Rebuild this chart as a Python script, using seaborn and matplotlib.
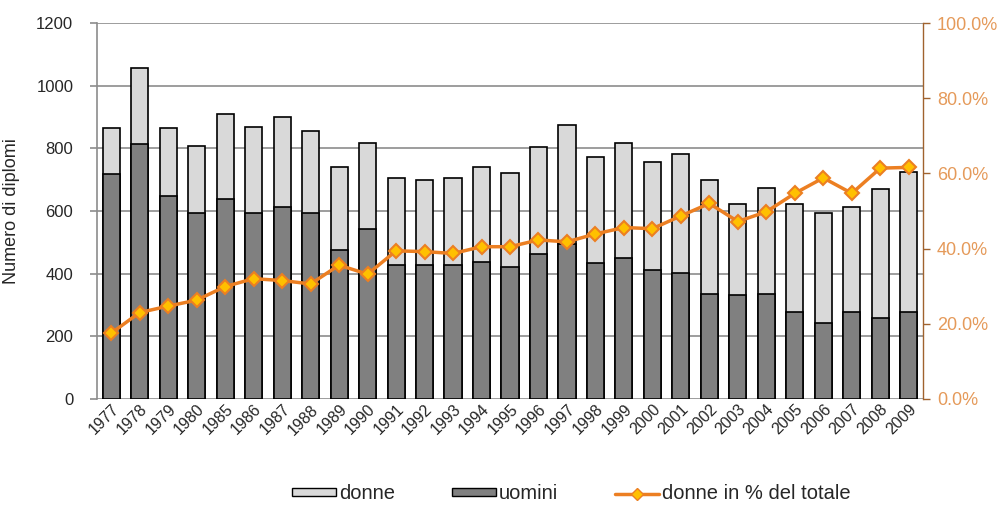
import numpy as np
import matplotlib
matplotlib.use("Agg")
import matplotlib.pyplot as plt
import seaborn as sns
import pandas as pd
from matplotlib.patches import Patch
from matplotlib.lines import Line2D
from matplotlib.ticker import FuncFormatter

years = ['1977', '1978', '1979', '1980', '1985', '1986', '1987', '1988', '1989', '1990',
         '1991', '1992', '1993', '1994', '1995', '1996', '1997', '1998', '1999', '2000',
         '2001', '2002', '2003', '2004', '2005', '2006', '2007', '2008', '2009']
totale = [865, 1055, 864, 807, 911, 869, 900, 854, 741, 818,
          704, 699, 704, 741, 720, 803, 873, 771, 818, 755,
          782, 699, 622, 673, 622, 593, 612, 669, 726]
uomini = [717, 813, 648, 593, 638, 593, 612, 593, 474, 541,
          427, 427, 427, 438, 422, 463, 495, 433, 449, 412,
          401, 335, 331, 335, 278, 244, 278, 259, 278]
perc_donne = [17.5, 23.0, 24.7, 26.3, 29.9, 32.0, 31.5, 30.6, 35.6, 33.2,
              39.4, 39.2, 38.7, 40.5, 40.5, 42.3, 41.8, 43.9, 45.6, 45.3,
              48.7, 52.0, 47.2, 49.8, 54.7, 58.8, 54.7, 61.4, 61.6]

df = pd.DataFrame({'anno': years, 'totale': totale, 'uomini': uomini, 'perc': perc_donne})

sns.set_style("white")
plt.rcParams['font.family'] = ['Liberation Sans', 'DejaVu Sans']

LIGHT = '#d9d9d9'
DARK = '#808080'
ORANGE = '#ec7f22'
ORANGE_TXT = '#e59a5a'
GRID = '#8c8c8c'

fig = plt.figure(figsize=(10.07, 5.08), dpi=100)
ax = fig.add_axes([0.0963, 0.2146, 0.8203, 0.7401])

# stacked bars: total (donne on top) first, uomini drawn over it
sns.barplot(data=df, x='anno', y='totale', color=LIGHT, edgecolor='black',
            linewidth=1.2, width=0.6, saturation=1, ax=ax, zorder=2)
sns.barplot(data=df, x='anno', y='uomini', color=DARK, edgecolor='black',
            linewidth=1.2, width=0.6, saturation=1, ax=ax, zorder=3)

ax.set_ylim(0, 1200)
ax.set_yticks(np.arange(0, 1201, 200))
ax.set_xlim(-0.5, len(years) - 0.5)
ax.grid(axis='y', color=GRID, linewidth=1.2, zorder=0)
ax.set_axisbelow(True)
ax.set_xlabel('')
ax.set_ylabel('Numero di diplomi', fontsize=13, labelpad=12)
ax.tick_params(axis='y', labelsize=12, length=5, color=GRID, width=1.2, pad=12)
ax.tick_params(axis='x', labelsize=11.5, length=0, pad=2)
plt.setp(ax.get_xticklabels(), rotation=45, ha='right', rotation_mode='anchor')
for side in ['top', 'right', 'bottom']:
    ax.spines[side].set_visible(False)
ax.spines['left'].set_color(GRID)
ax.spines['left'].set_linewidth(1.2)

ax2 = ax.twinx()
sns.pointplot(data=df, x='anno', y='perc', color=ORANGE, marker='D', markersize=7,
              markerfacecolor='#ffc000', markeredgecolor=ORANGE, markeredgewidth=1.5,
              linewidth=2.5, ax=ax2, zorder=5)
ax2.set_ylim(0, 100)
ax2.set_xlim(-0.5, len(years) - 0.5)
ax2.set_yticks(np.arange(0, 101, 20))
ax2.yaxis.set_major_formatter(FuncFormatter(lambda v, p: f'{v:.1f}%'))
ax2.set_ylabel('')
ax2.tick_params(axis='y', labelsize=13, colors='#a0622e', labelcolor=ORANGE_TXT,
                length=5, width=1, direction='out', pad=5, right=True)
for side in ['top', 'left', 'bottom']:
    ax2.spines[side].set_visible(False)
ax2.spines['right'].set_color('#a0622e')
ax2.spines['right'].set_linewidth(1)

handles = [
    Patch(facecolor=LIGHT, edgecolor='black', linewidth=1),
    Patch(facecolor=DARK, edgecolor='black', linewidth=1),
    Line2D([0], [0], color=ORANGE, linewidth=2.5, marker='D', markersize=6,
           markerfacecolor='#ffc000', markeredgecolor=ORANGE),
]
fig.legend(handles, ['donne', 'uomini', 'donne in % del totale'], loc='center',
           bbox_to_anchor=(0.5675, 0.028), ncol=3, frameon=False, fontsize=14.5,
           handlelength=2.2, handleheight=0.25, columnspacing=2.8, handletextpad=0.15)

fig.savefig('out.png', dpi=100)
